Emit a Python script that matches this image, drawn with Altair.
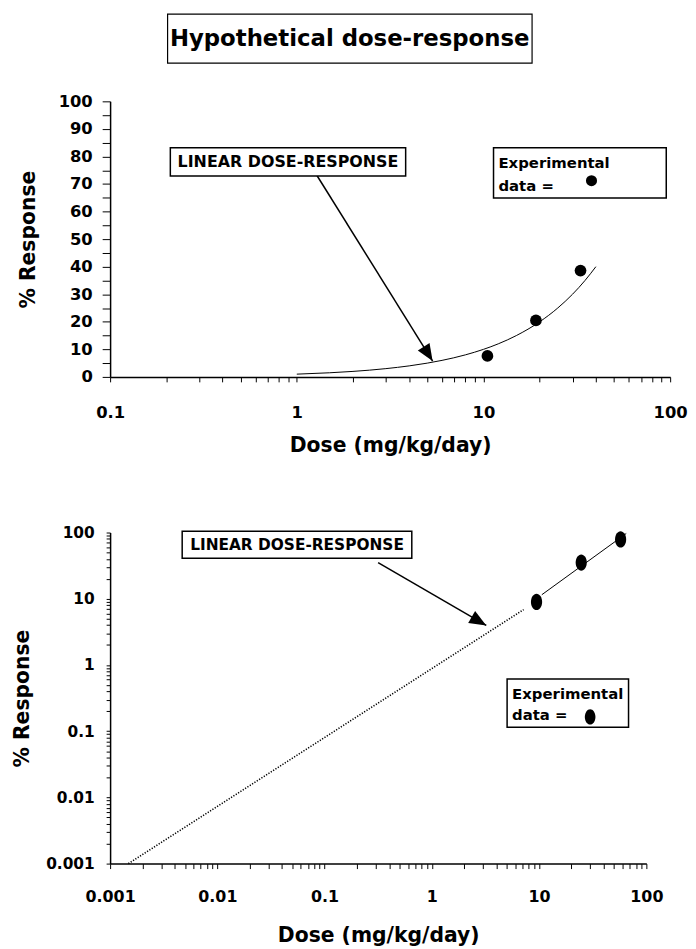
import altair as alt
import pandas as pd

FONT = "DejaVu Sans"
TITLE = "Hypothetical dose-response"
X_TITLE = "Dose (mg/kg/day)"
Y_TITLE = "% Response"
LINEAR_LABEL = "LINEAR DOSE-RESPONSE"
LEGEND_LINE1 = "Experimental"
LEGEND_LINE2 = "data ="

# ---------------- top panel (log dose, linear response) ----------------
top_exp_dose = [10.5, 19.1, 33.1]
top_exp_resp = [7.6, 20.5, 38.6]
top_curve_dose = [1, 1.5, 2, 3, 4, 5, 6, 8, 10, 12, 15, 20, 25, 30, 35, 40]
top_curve_resp = [1, 1.5, 2, 3, 4, 5, 6, 8, 10, 12, 15, 20, 25, 30, 35, 40]

# ---------------- bottom panel (log dose, log response) ----------------
bot_exp_dose = [9.46, 24.7, 57.5]
bot_exp_resp = [8.96, 35.2, 78.6]
bot_fit_dose = [10.6, 64.9]
bot_fit_resp = [11.5, 96.6]
bot_extrap_dose = [0.00148, 7.17]
bot_extrap_resp = [0.001, 6.87]

# tick values
top_x_ticks = [m * 10.0 ** e for e in range(-1, 2) for m in range(1, 10)] + [100]
top_y_ticks = list(range(0, 101, 5))
bot_x_ticks = [m * 10.0 ** e for e in range(-3, 2) for m in range(1, 10)] + [100]
bot_y_ticks = [m * 10.0 ** e for e in range(-3, 2) for m in range(1, 10)] + [100]

# annotation anchors (data units)
top_linear_box = {"x": [0.2102], "x2": [3.83], "y": [83.2], "y2": [72.9]}
top_linear_text = {"x": [0.897], "y": [78.0], "t": [LINEAR_LABEL]}
top_arrow = {"x": [1.285], "y": [73.0], "x2": [5.34], "y2": [5.76]}
top_legend_box = {"x": [11.32], "x2": [95.3], "y": [83.2], "y2": [64.95]}
top_legend_text = {"x": [12.03, 12.03], "y": [75.76, 67.36], "t": [LEGEND_LINE1, LEGEND_LINE2]}
top_legend_dot = {"x": [37.9], "y": [71.2]}

bot_linear_box = {"x": [0.0047], "x2": [0.65], "y": [104.6], "y2": [40.8]}
bot_linear_text = {"x": [0.0553], "y": [65.4], "t": [LINEAR_LABEL]}
bot_arrow = {"x": [0.3153], "y": [35.2], "x2": [3.215], "y2": [3.96]}
bot_legend_box = {"x": [5.03], "x2": [68.2], "y": [0.615], "y2": [0.115]}
bot_legend_text = {"x": [5.6, 5.6], "y": [0.309, 0.1466], "t": [LEGEND_LINE1, LEGEND_LINE2]}
bot_legend_dot = {"x": [29.9], "y": [0.1644]}

ARROW_HEAD = "M0,0L0.82,2L-0.82,2Z"
ELLIPSE = ("M0,-1C0.381,-1,0.69,-0.552,0.69,0C0.69,0.552,0.381,1,0,1"
           "C-0.381,1,-0.69,0.552,-0.69,0C-0.69,-0.552,-0.381,-1,0,-1Z")
POW10 = "abs(log(datum.value)/LN10 - round(log(datum.value)/LN10)) < 0.000001 ? datum.label : ''"

# ---------------- encodings ----------------
def tx(field="x"):
    return alt.X(f"{field}:Q",
                 scale=alt.Scale(type="log", domain=[0.1, 100], nice=False),
                 axis=alt.Axis(values=top_x_ticks, labelExpr=POW10, format=".3~f",
                               tickSize=5, labelPadding=23, labelFontSize=16.5,
                               labelOverlap=False, labelFlush=False,
                               title=X_TITLE, titlePadding=15))

def ty(field="y"):
    return alt.Y(f"{field}:Q",
                 scale=alt.Scale(domain=[0, 100], nice=False),
                 axis=alt.Axis(values=top_y_ticks,
                               labelExpr="datum.value % 10 == 0 ? datum.label : ''",
                               tickSize=8, labelPadding=10, labelFontSize=16.5,
                               labelOverlap=False, labelFlush=False,
                               title=Y_TITLE, titlePadding=20))

def bx(field="x"):
    return alt.X(f"{field}:Q",
                 scale=alt.Scale(type="log", domain=[0.001, 100], nice=False),
                 axis=alt.Axis(values=bot_x_ticks, labelExpr=POW10, format=".3~f",
                               tickSize=5, labelPadding=20, labelFontSize=16,
                               labelOverlap=False, labelFlush=False,
                               title=X_TITLE, titlePadding=21.5))

def by(field="y"):
    return alt.Y(f"{field}:Q",
                 scale=alt.Scale(type="log", domain=[0.001, 100], nice=False),
                 axis=alt.Axis(values=bot_y_ticks, labelExpr=POW10, format=".3~f",
                               tickSize=4, labelPadding=12, labelFontSize=15.5,
                               labelOverlap=False, labelFlush=False,
                               title=Y_TITLE, titlePadding=13))

def df(d):
    return pd.DataFrame(d)

# ---------------- top chart ----------------
t_curve = alt.Chart(df({"x": top_curve_dose, "y": top_curve_resp})).mark_line(
    color="black", strokeWidth=1, interpolate="monotone").encode(x=tx(), y=ty())
t_pts = alt.Chart(df({"x": top_exp_dose, "y": top_exp_resp})).mark_point(
    shape="circle", filled=True, size=140, color="black", opacity=1).encode(x=tx(), y=ty())
t_lbox = alt.Chart(df(top_linear_box)).mark_rect(
    fill="white", stroke="black", strokeWidth=1.5).encode(x=tx(), x2="x2", y=ty(), y2="y2")
t_ltext = alt.Chart(df(top_linear_text)).mark_text(
    font=FONT, fontWeight="bold", fontSize=16, align="center", baseline="middle",
    color="black").encode(x=tx(), y=ty(), text="t:N")
t_arrow = alt.Chart(df(top_arrow)).mark_rule(color="black", strokeWidth=1.5).encode(
    x=tx(), y=ty(), x2="x2", y2="y2")
t_head = alt.Chart(df(top_arrow)).mark_point(
    shape=ARROW_HEAD, filled=True, size=289, angle=148, color="black", opacity=1,
    strokeWidth=0).encode(x=tx("x2"), y=ty("y2"))
t_gbox = alt.Chart(df(top_legend_box)).mark_rect(
    fill="white", stroke="black", strokeWidth=1.5).encode(x=tx(), x2="x2", y=ty(), y2="y2")
t_gtext = alt.Chart(df(top_legend_text)).mark_text(
    font=FONT, fontWeight="bold", fontSize=15, align="left", baseline="alphabetic",
    color="black").encode(x=tx(), y=ty(), text="t:N")
t_gdot = alt.Chart(df(top_legend_dot)).mark_point(
    shape="circle", filled=True, size=125, color="black", opacity=1).encode(x=tx(), y=ty())

# title box (decoration above the first panel, in pixels)
t_tbox = alt.Chart(df({"t": [TITLE]})).mark_rect(
    fill="white", stroke="black", strokeWidth=1.2).encode(
    x=alt.value(58), x2=alt.value(425.7), y=alt.value(-88), y2=alt.value(-38.6))
t_ttext = alt.Chart(df({"t": [TITLE]})).mark_text(
    font=FONT, fontWeight="bold", fontSize=23, align="center", baseline="middle",
    color="black").encode(x=alt.value(241.7), y=alt.value(-62.6), text="t:N")

top = alt.layer(t_curve, t_pts, t_arrow, t_head, t_lbox, t_ltext, t_gbox, t_gtext,
                t_gdot, t_tbox, t_ttext).properties(width=565, height=278)

# ---------------- bottom chart ----------------
b_extrap = alt.Chart(df({"x": bot_extrap_dose, "y": bot_extrap_resp})).mark_line(
    color="black", strokeWidth=1.6, strokeDash=[1.2, 1.6]).encode(x=bx(), y=by())
b_fit = alt.Chart(df({"x": bot_fit_dose, "y": bot_fit_resp})).mark_line(
    color="black", strokeWidth=1).encode(x=bx(), y=by())
b_pts = alt.Chart(df({"x": bot_exp_dose, "y": bot_exp_resp})).mark_point(
    shape=ELLIPSE, filled=True, size=266, color="black", opacity=1,
    strokeWidth=0).encode(x=bx(), y=by())
b_lbox = alt.Chart(df(bot_linear_box)).mark_rect(
    fill="white", stroke="black", strokeWidth=1.5).encode(x=bx(), x2="x2", y=by(), y2="y2")
b_ltext = alt.Chart(df(bot_linear_text)).mark_text(
    font=FONT, fontWeight="bold", fontSize=15.5, align="center", baseline="middle",
    color="black").encode(x=bx(), y=by(), text="t:N")
b_arrow = alt.Chart(df(bot_arrow)).mark_rule(color="black", strokeWidth=1.5).encode(
    x=bx(), y=by(), x2="x2", y2="y2")
b_head = alt.Chart(df(bot_arrow)).mark_point(
    shape=ARROW_HEAD, filled=True, size=289, angle=120, color="black", opacity=1,
    strokeWidth=0).encode(x=bx("x2"), y=by("y2"))
b_gbox = alt.Chart(df(bot_legend_box)).mark_rect(
    fill="white", stroke="black", strokeWidth=1.5).encode(x=bx(), x2="x2", y=by(), y2="y2")
b_gtext = alt.Chart(df(bot_legend_text)).mark_text(
    font=FONT, fontWeight="bold", fontSize=15, align="left", baseline="alphabetic",
    color="black").encode(x=bx(), y=by(), text="t:N")
b_gdot = alt.Chart(df(bot_legend_dot)).mark_point(
    shape=ELLIPSE, filled=True, size=240, color="black", opacity=1,
    strokeWidth=0).encode(x=bx(), y=by())

bottom = alt.layer(b_extrap, b_fit, b_pts, b_arrow, b_head, b_lbox, b_ltext, b_gbox,
                   b_gtext, b_gdot).properties(width=541, height=334)

chart = alt.vconcat(top, bottom, spacing=68).properties(
    padding={"left": 4, "top": 0, "right": 0, "bottom": 0}
).configure_axis(
    labelFont=FONT, labelFontWeight="bold", labelColor="black",
    titleFont=FONT, titleFontWeight="bold", titleColor="black", titleFontSize=20.5,
    domainColor="black", domainWidth=1.5, tickColor="black", tickWidth=1, grid=False
).configure_view(stroke="transparent")

chart.save("out.html", embed_options={"renderer": "svg", "actions": False})
